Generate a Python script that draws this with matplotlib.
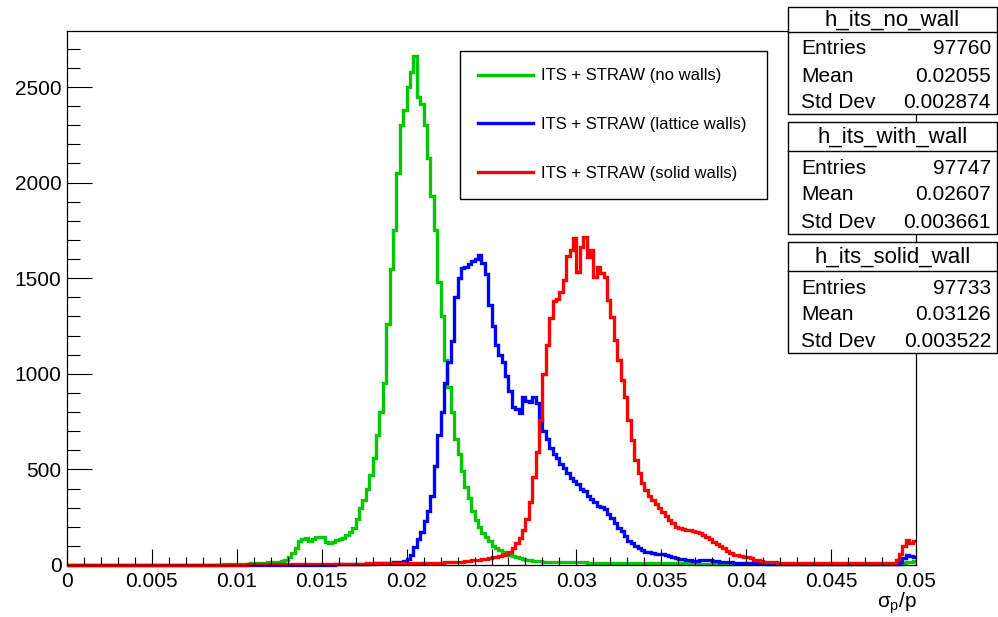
import numpy as np
import matplotlib
matplotlib.use("Agg")
import matplotlib.pyplot as plt
from matplotlib.patches import Rectangle
from matplotlib.lines import Line2D
from matplotlib.ticker import MultipleLocator

plt.rcParams['font.family'] = ['Liberation Sans', 'DejaVu Sans']
plt.rcParams['mathtext.fontset'] = 'custom'
plt.rcParams['mathtext.rm'] = 'Liberation Sans'
plt.rcParams['mathtext.it'] = 'Liberation Sans'
plt.rcParams['mathtext.sf'] = 'Liberation Sans'
plt.rcParams['mathtext.bf'] = 'Liberation Sans'

# ---------------- data ----------------
x_min, x_max, n_bins = 0.0, 0.05, 250

no_wall = [
    0, 0, 0, 0, 0, 0, 0, 0, 0, 0,
    0, 0, 0, 0, 0, 0, 0, 0, 0, 0,
    0, 0, 0, 0, 0, 0, 0, 0, 0, 0,
    0, 0, 0, 0, 0, 1, 1, 1, 1, 1,
    1, 1, 2, 2, 2, 2, 3, 3, 3, 3,
    3, 4, 5, 6, 8, 9, 10, 12, 13, 14,
    15, 16, 18, 20, 25, 40, 65, 90, 125, 135,
    143, 124, 138, 145, 148, 148, 120, 113, 118, 130,
    135, 140, 155, 172, 195, 240, 300, 340, 400, 470,
    560, 680, 800, 950, 1260, 1550, 1750, 2050, 2300, 2380,
    2500, 2580, 2660, 2450, 2410, 2300, 2130, 1930, 1750, 1480,
    1300, 1070, 930, 800, 660, 580, 490, 410, 350, 280,
    235, 200, 165, 145, 125, 100, 88, 78, 66, 58,
    52, 46, 40, 36, 32, 28, 26, 23, 21, 19,
    18, 18, 17, 17, 16, 16, 16, 15, 15, 15,
    14, 14, 14, 13, 13, 13, 13, 12, 12, 12,
    12, 12, 11, 11, 11, 11, 11, 10, 10, 10,
    10, 10, 10, 9, 9, 9, 9, 9, 9, 8,
    8, 8, 8, 8, 8, 8, 7, 7, 7, 7,
    7, 7, 7, 7, 7, 6, 6, 6, 6, 6,
    6, 6, 6, 6, 6, 5, 5, 5, 5, 5,
    5, 5, 5, 5, 5, 5, 5, 4, 4, 4,
    4, 4, 4, 4, 4, 4, 4, 4, 4, 4,
    3, 3, 3, 3, 3, 3, 3, 3, 3, 3,
    3, 3, 3, 3, 3, 4, 8, 14, 18, 20,
]

with_wall = [
    0, 0, 0, 0, 0, 0, 0, 0, 0, 0,
    0, 0, 0, 0, 0, 0, 0, 0, 0, 0,
    0, 0, 0, 0, 0, 0, 0, 0, 0, 0,
    0, 0, 0, 0, 0, 0, 0, 0, 0, 0,
    0, 0, 0, 0, 0, 0, 0, 0, 0, 0,
    0, 0, 0, 0, 0, 0, 0, 0, 0, 0,
    0, 0, 0, 0, 0, 0, 0, 0, 0, 0,
    1, 1, 1, 1, 2, 2, 2, 2, 2, 3,
    3, 3, 3, 4, 4, 4, 5, 5, 6, 6,
    7, 8, 9, 10, 12, 13, 15, 16, 18, 20,
    30, 50, 95, 135, 175, 230, 280, 360, 520, 680,
    800, 950, 1060, 1170, 1400, 1500, 1552, 1560, 1575, 1590,
    1600, 1621, 1578, 1520, 1360, 1250, 1150, 1100, 1060, 990,
    910, 828, 815, 795, 880, 860, 855, 880, 846, 770,
    700, 660, 610, 580, 560, 530, 505, 480, 455, 440,
    425, 400, 385, 360, 345, 330, 310, 305, 295, 265,
    245, 220, 195, 180, 150, 128, 115, 100, 88, 78,
    70, 66, 62, 60, 58, 55, 50, 45, 40, 36,
    33, 30, 27, 24, 20, 22, 25, 26, 24, 26,
    22, 20, 18, 17, 16, 15, 13, 12, 11, 10,
    9, 9, 8, 8, 8, 8, 7, 7, 7, 7,
    7, 6, 6, 6, 6, 6, 6, 5, 5, 5,
    5, 5, 5, 5, 5, 5, 4, 4, 4, 4,
    4, 4, 4, 4, 4, 4, 4, 4, 4, 4,
    4, 4, 4, 4, 4, 15, 35, 50, 45, 40,
]

solid_wall = [
    0, 0, 0, 0, 0, 0, 0, 0, 0, 0,
    0, 0, 0, 0, 0, 0, 0, 0, 0, 0,
    0, 0, 0, 0, 0, 0, 0, 0, 0, 0,
    0, 0, 0, 0, 1, 1, 1, 1, 1, 1,
    1, 1, 1, 1, 2, 2, 2, 2, 2, 2,
    2, 2, 2, 3, 3, 3, 3, 3, 3, 3,
    3, 3, 4, 4, 4, 4, 4, 4, 5, 5,
    5, 5, 5, 5, 5, 6, 6, 6, 6, 6,
    6, 6, 6, 7, 7, 7, 7, 7, 8, 8,
    8, 8, 8, 8, 9, 9, 9, 9, 9, 10,
    10, 10, 10, 11, 11, 11, 12, 12, 12, 13,
    13, 14, 14, 15, 16, 17, 18, 20, 22, 24,
    26, 28, 30, 33, 36, 40, 44, 48, 54, 60,
    70, 90, 115, 140, 185, 240, 330, 460, 590, 760,
    1000, 1150, 1290, 1380, 1390, 1430, 1490, 1615, 1650, 1710,
    1530, 1665, 1717, 1613, 1648, 1508, 1560, 1525, 1508, 1386,
    1299, 1177, 1072, 968, 880, 758, 654, 549, 479, 427,
    392, 360, 340, 320, 300, 275, 255, 235, 220, 200,
    195, 188, 183, 185, 178, 172, 165, 155, 148, 135,
    122, 112, 100, 88, 75, 62, 54, 50, 46, 43,
    40, 34, 28, 24, 20, 18, 16, 15, 14, 13,
    12, 12, 12, 11, 11, 11, 11, 10, 10, 10,
    10, 10, 10, 10, 10, 10, 10, 10, 10, 10,
    10, 10, 10, 10, 10, 10, 10, 10, 10, 10,
    10, 10, 10, 11, 25, 60, 100, 130, 115, 125,
]

series = [no_wall, with_wall, solid_wall]
hist_names = ["h_its_no_wall", "h_its_with_wall", "h_its_solid_wall"]
legend_labels = ["ITS + STRAW (no walls)", "ITS + STRAW (lattice walls)",
                 "ITS + STRAW (solid walls)"]
entries = ["97760", "97747", "97733"]
means = ["0.02055", "0.02607", "0.03126"]
std_devs = ["0.002874", "0.003661", "0.003522"]
colors = ["#00c800", "#0000ff", "#ff0000"]

x_ticks = [0, 0.005, 0.01, 0.015, 0.02, 0.025, 0.03, 0.035, 0.04, 0.045, 0.05]
x_tick_labels = ["0", "0.005", "0.01", "0.015", "0.02", "0.025", "0.03",
                 "0.035", "0.04", "0.045", "0.05"]
y_ticks = [0, 500, 1000, 1500, 2000, 2500]
y_tick_labels = ["0", "500", "1000", "1500", "2000", "2500"]
y_top = 2793
x_label = r"$\sigma_{p}/p$"

# ---------------- layout ----------------
W, H = 998, 617
fig = plt.figure(figsize=(W / 100, H / 100), dpi=100)


def fx(px):
    return px / W


def fy(py):
    return 1 - py / H


ax_l, ax_r, ax_t, ax_b = 67, 916, 31, 565
ax = fig.add_axes([fx(ax_l), fy(ax_b), (ax_r - ax_l) / W, (ax_b - ax_t) / H])
ax.set_xlim(x_min, x_max)
ax.set_ylim(0, y_top)

edges = np.linspace(x_min, x_max, n_bins + 1)
for vals, col, lab in zip(series, colors, legend_labels):
    ax.stairs(vals, edges, color=col, lw=2.4, baseline=None, label=lab,
              clip_on=False)

ax.set_xticks(x_ticks)
ax.set_xticklabels(x_tick_labels)
ax.set_yticks(y_ticks)
ax.set_yticklabels(y_tick_labels)
ax.xaxis.set_minor_locator(MultipleLocator(0.001))
ax.yaxis.set_minor_locator(MultipleLocator(100))
ax.tick_params(axis='x', which='major', direction='in', length=11.5, width=0.8,
               labelsize=15, pad=5)
ax.tick_params(axis='x', which='minor', direction='in', length=5.8, width=0.8)
ax.tick_params(axis='y', which='major', direction='in', length=18, width=0.8,
               labelsize=15, pad=4)
ax.tick_params(axis='y', which='minor', direction='in', length=9, width=0.8)
for sp in ax.spines.values():
    sp.set_linewidth(0.9)
    sp.set_color('black')

# legend
lg_l, lg_r, lg_t = 460, 767, 51
x0 = (lg_l - ax_l) / (ax_r - ax_l)
wdt = (lg_r - lg_l) / (ax_r - ax_l)
y0 = (ax_b - lg_t) / (ax_b - ax_t)
leg = ax.legend(loc='upper left', bbox_to_anchor=(x0, y0 - 0.3, wdt, 0.3),
                mode='expand', borderaxespad=0, fontsize=12, frameon=True,
                fancybox=False, shadow=False, framealpha=1, edgecolor='black',
                handlelength=3.3, handletextpad=0.5, labelspacing=2.03,
                borderpad=1.05)
leg.get_frame().set_linewidth(1.0)

# x label
fig.text(fx(917), fy(603), x_label, ha='right', va='center', fontsize=15)

# stats boxes
bx_l, bx_r = 788, 997
boxes_px = [(7, 32, 114), (122, 151, 234), (242, 271, 353)]
for (top, div, bot), name, ent, mn, sd in zip(boxes_px, hist_names, entries,
                                              means, std_devs):
    rect = Rectangle((fx(bx_l), fy(bot)), (bx_r - bx_l) / W, (bot - top) / H,
                     transform=fig.transFigure, facecolor='white',
                     edgecolor='black', lw=1.0, zorder=10)
    fig.add_artist(rect)
    fig.add_artist(Line2D([fx(bx_l), fx(bx_r)], [fy(div), fy(div)],
                          transform=fig.transFigure, color='black', lw=1.0,
                          zorder=11))
    fig.text(fx((bx_l + bx_r) / 2), fy((top + div) / 2 + 1), name,
             ha='center', va='center', fontsize=16, zorder=12)
    rows = [("Entries", ent), ("Mean", mn), ("Std Dev", sd)]
    for k, (lab, val) in enumerate(rows):
        yy = div + 17 + 27 * k
        fig.text(fx(801), fy(yy), lab, ha='left', va='center', fontsize=15,
                 zorder=12)
        fig.text(fx(991), fy(yy), val, ha='right', va='center', fontsize=15,
                 zorder=12)

fig.savefig("out.png", dpi=100)
